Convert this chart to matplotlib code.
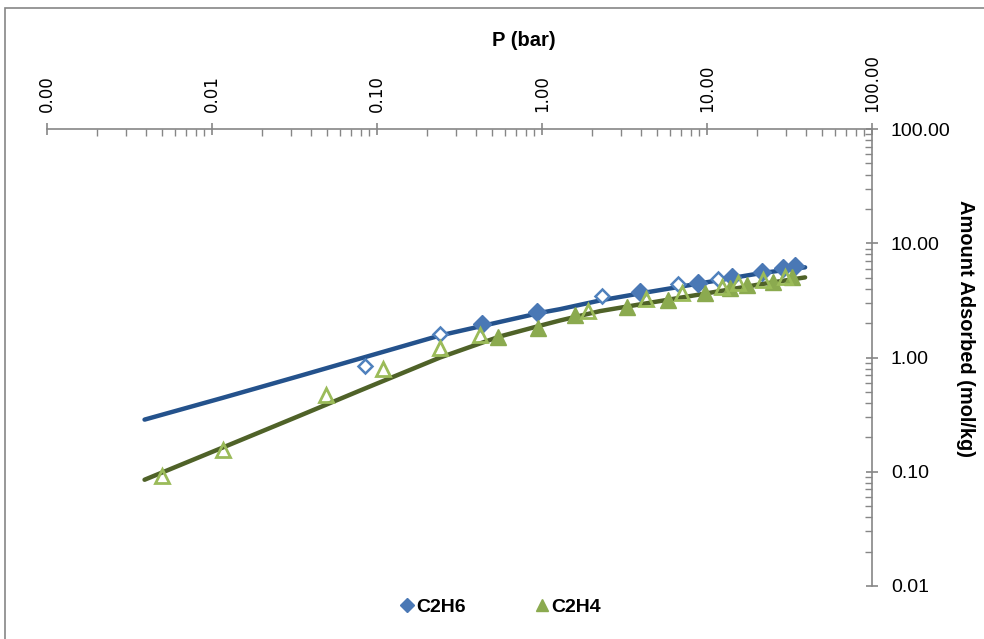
import matplotlib.pyplot as plt
from matplotlib.patches import Rectangle
from matplotlib.ticker import LogLocator, FixedLocator, NullFormatter

# fitted curves
fit_p = [0.0039, 0.0115, 0.0341, 0.0789, 0.241, 0.556, 1.0, 1.285, 2.25, 3.93, 9.87, 20.9, 39.3]
fit_c2h6 = [0.286, 0.442, 0.691, 0.98, 1.56, 2.05, 2.48, 2.65, 3.16, 3.64, 4.55, 5.46, 6.16]
fit_c2h4 = [0.0851, 0.162, 0.310, 0.514, 1.0, 1.53, 1.92, 2.11, 2.55, 2.92, 3.64, 4.37, 5.03]

# C2H6 measured (filled) and second set (open)
c2h6_p = [0.433, 0.93, 3.93, 8.82, 14.2, 21.5, 28.9, 34.1]
c2h6_q = [1.95, 2.48, 3.72, 4.46, 5.03, 5.57, 6.04, 6.28]
c2h6_p2 = [0.0845, 0.241, 2.31, 6.67, 11.7]
c2h6_q2 = [0.85, 1.62, 3.43, 4.36, 4.83]

# C2H4 measured (filled) and second set (open)
c2h4_p = [0.541, 0.946, 1.585, 3.27, 5.80, 9.72, 13.8, 17.5, 25.1, 32.7]
c2h4_q = [1.50, 1.83, 2.34, 2.75, 3.16, 3.64, 4.03, 4.28, 4.55, 5.03]
c2h4_p2 = [0.00498, 0.0117, 0.049, 0.109, 0.241, 0.42, 1.90, 4.27, 7.05, 12.3, 15.4, 21.8, 29.7]
c2h4_q2 = [0.092, 0.156, 0.474, 0.80, 1.22, 1.56, 2.58, 3.23, 3.64, 4.11, 4.46, 4.74, 5.03]

x_ticks = [0.001, 0.01, 0.1, 1, 10, 100]
y_ticks = [0.01, 0.1, 1, 10, 100]

plt.rcParams['font.family'] = ['Liberation Sans', 'DejaVu Sans']
fig = plt.figure(figsize=(9.84, 6.39), dpi=100)
ax = fig.add_axes([0.0478, 0.083, 0.8384, 0.715])

ax.plot(fit_p, fit_c2h6, color='#24528C', lw=3.2, zorder=2, solid_capstyle='round')
ax.plot(fit_p, fit_c2h4, color='#4F6228', lw=3.2, zorder=2, solid_capstyle='round')

ax.plot(c2h6_p2, c2h6_q2, 'D', ms=7.5, mfc='white', mec='#4F81BD', mew=1.8, ls='none', zorder=3)
ax.plot(c2h6_p, c2h6_q, 'D', ms=9, color='#4A78B5', ls='none', zorder=3, label='C2H6')
ax.plot(c2h4_p, c2h4_q, '^', ms=11.5, color='#8BAA4F', ls='none', zorder=4, label='C2H4')
ax.plot(c2h4_p2, c2h4_q2, '^', ms=10.5, mfc='none', mec='#9BBB59', mew=2, ls='none', zorder=4)

ax.set_xscale('log')
ax.set_yscale('log')
ax.set_xlim(0.001, 100)
ax.set_ylim(0.01, 100)

ax.xaxis.set_major_locator(FixedLocator(x_ticks))
ax.yaxis.set_major_locator(FixedLocator(y_ticks))
ax.xaxis.set_minor_locator(LogLocator(base=10, subs=range(2, 10)))
ax.yaxis.set_minor_locator(LogLocator(base=10, subs=range(2, 10)))
ax.xaxis.set_minor_formatter(NullFormatter())
ax.yaxis.set_minor_formatter(NullFormatter())
ax.set_xticklabels(['%.2f' % v for v in x_ticks], rotation=90,
                   family='DejaVu Sans', fontsize=12)
ax.set_yticklabels(['%.2f' % v for v in y_ticks], fontsize=14)

ax.xaxis.tick_top()
ax.yaxis.tick_right()
for s in ['left', 'bottom']:
    ax.spines[s].set_visible(False)
for s in ['top', 'right']:
    ax.spines[s].set_color('#868686')
    ax.spines[s].set_linewidth(1.2)
ax.tick_params(which='major', direction='inout', length=9, width=1.2, color='#868686', pad=9)
ax.tick_params(which='minor', direction='in', length=5, width=1, color='#868686')
ax.tick_params(axis='x', which='major', pad=8)

fig.text(524 / 984, 1 - 40 / 639, 'P (bar)', ha='center', va='center',
         fontsize=14.5, fontweight='bold')
fig.text(966 / 984, 1 - 328 / 639, 'Amount Adsorbed (mol/kg)', ha='center', va='center',
         rotation=-90, fontsize=14.4, fontweight='bold')

fig.legend(loc='center', bbox_to_anchor=(499 / 984, 1 - 607 / 639), ncol=2, frameon=False,
           prop={'weight': 'bold', 'size': 14}, handletextpad=0.0, columnspacing=3.4,
           markerscale=0.75, handlelength=1.0)

fig.patches.append(Rectangle((5 / 984, -0.1), 1.2, 1 - 8 / 639 + 0.1, transform=fig.transFigure,
                             fill=False, edgecolor='#868686', lw=1.2))

fig.savefig('out.png', dpi=100)
